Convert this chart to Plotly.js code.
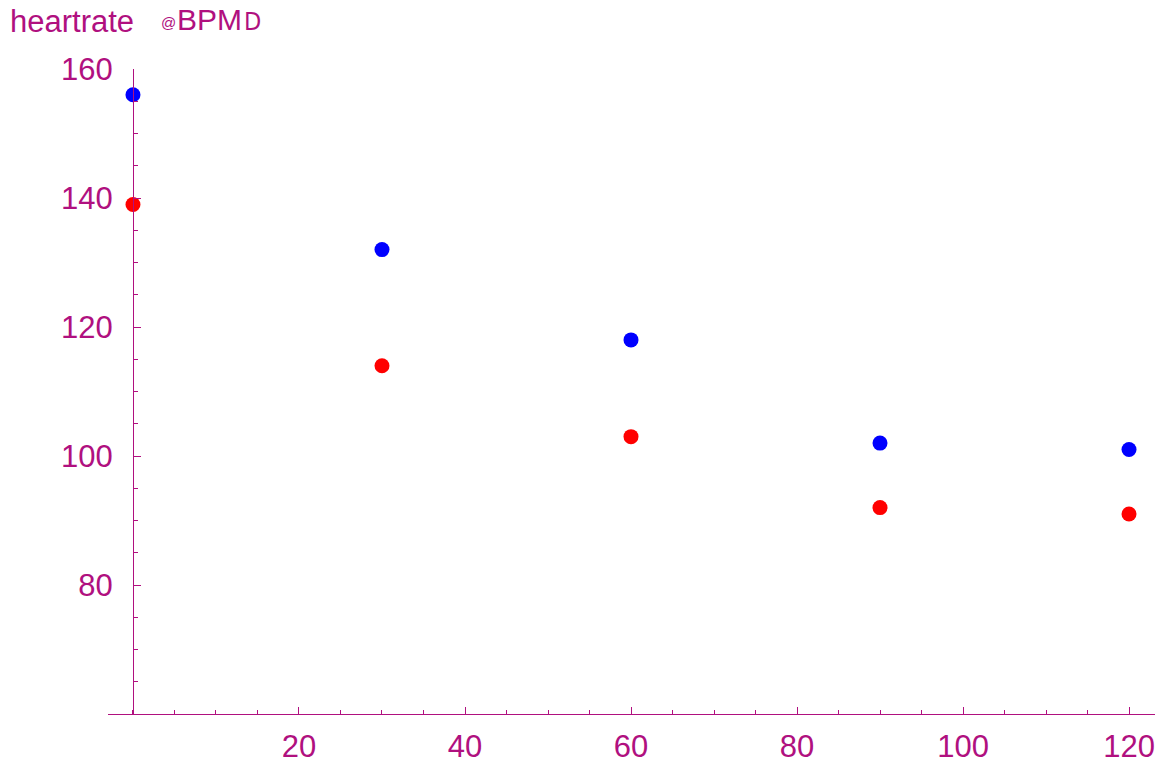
<!DOCTYPE html>
<html>
<head>
<meta charset="utf-8">
<script src="https://cdn.plot.ly/plotly-3.0.1.min.js"></script>
<style>
  html, body { margin: 0; padding: 0; background: #fff; }
  #chart { width: 1165px; height: 765px; }
</style>
</head>
<body>
<div id="chart"></div>
<script>
// Minutes after exercise and heart rate readings (BPM)
const minutes = [0, 30, 60, 90, 120];
const heartRateBlue = [156, 132, 118, 102, 101];
const heartRateRed = [139, 114, 103, 92, 91];

const xTickVals = [20, 40, 60, 80, 100, 120];
const yTickVals = [80, 100, 120, 140, 160];

const ink = '#b0107f';
const xRange = [-3.01, 123.13];
const yRange = [60, 160];

const W = 1165, H = 765;
const M = { l: 108, r: 10, t: 69, b: 51 };
const plotW = W - M.l - M.r, plotH = H - M.t - M.b;
// pixel position -> paper coordinates, for the heading pieces above the plot
const px = v => (v - M.l) / plotW;
const py = v => (H - M.b - v) / plotH;

const traces = [
  {
    x: minutes, y: heartRateBlue, type: 'scatter', mode: 'markers',
    marker: { color: '#0000ff', size: 15 }, hoverinfo: 'x+y'
  },
  {
    x: minutes, y: heartRateRed, type: 'scatter', mode: 'markers',
    marker: { color: '#ff0000', size: 15 }, hoverinfo: 'x+y'
  }
];

// axis label: "heartrate  @BPMD", drawn in pieces with their own sizes
const headingPieces = [
  { text: 'heartrate', left: 9, mid: 22, size: 31, family: 'Liberation Sans, Arial, sans-serif' },
  { text: '@', left: 160, mid: 23, size: 15, family: 'Liberation Sans, Arial, sans-serif' },
  { text: 'BPM', left: 175.5, mid: 19.5, size: 30, family: 'Liberation Sans, Arial, sans-serif' },
  { text: 'D', left: 243, mid: 21.5, size: 25, family: 'Liberation Sans Narrow, DejaVu Sans Condensed, sans-serif' }
];

const annotations = headingPieces.map(p => ({
  text: p.text, showarrow: false,
  xref: 'paper', yref: 'paper',
  x: px(p.left), y: py(p.mid),
  xanchor: 'left', yanchor: 'middle',
  borderpad: 0,
  font: { size: p.size, color: ink, family: p.family }
}));

const layout = {
  width: W, height: H,
  paper_bgcolor: '#ffffff', plot_bgcolor: '#ffffff',
  showlegend: false,
  margin: M,
  font: { family: 'Liberation Sans, Arial, sans-serif', color: ink, size: 31 },
  annotations: annotations,
  xaxis: {
    range: xRange, anchor: 'y',
    showgrid: false, zeroline: false,
    showline: true, linecolor: ink, linewidth: 1,
    tickmode: 'array', tickvals: xTickVals,
    ticks: 'inside', ticklen: 7, tickcolor: ink, tickwidth: 1,
    ticklabelstandoff: 5,
    minor: { dtick: 5, tick0: 0, ticks: 'inside', ticklen: 4, tickcolor: ink, showgrid: false },
    tickfont: { size: 31, color: ink }
  },
  yaxis: {
    range: yRange, anchor: 'free',
    position: (0 - xRange[0]) / (xRange[1] - xRange[0]),
    showgrid: false, zeroline: false,
    showline: true, linecolor: ink, linewidth: 1,
    tickmode: 'array', tickvals: yTickVals,
    ticks: 'inside', ticklen: 7, tickcolor: ink, tickwidth: 1,
    ticklabelstandoff: 14,
    minor: { dtick: 5, tick0: 0, ticks: 'inside', ticklen: 4, tickcolor: ink, showgrid: false },
    tickfont: { size: 31, color: ink }
  }
};

Plotly.newPlot('chart', traces, layout, { displayModeBar: false, staticPlot: true });
</script>
</body>
</html>
